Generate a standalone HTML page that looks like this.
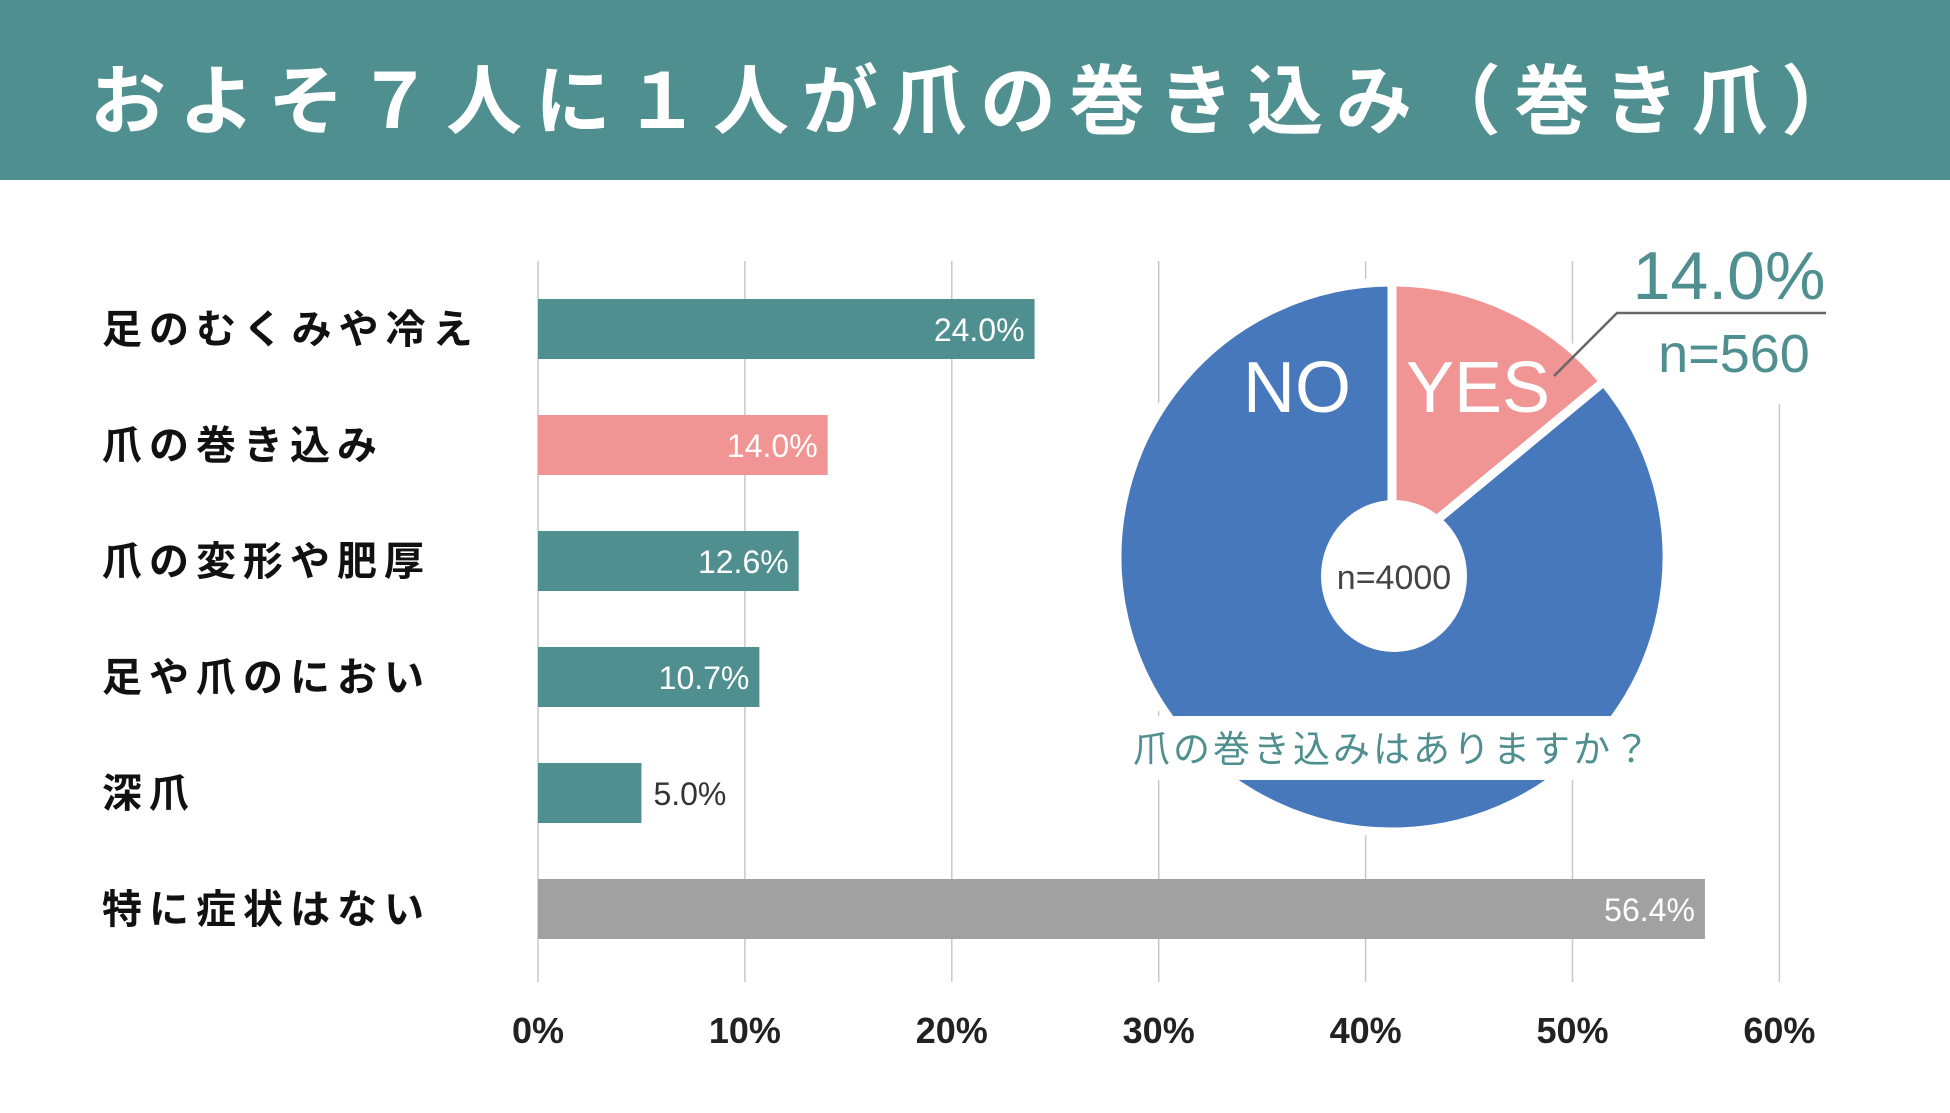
<!DOCTYPE html>
<html><head><meta charset="utf-8"><style>
body{margin:0;background:#fff;}
svg{display:block;font-family:"Liberation Sans","Noto Sans CJK JP",sans-serif;}
</style></head><body>
<svg id="c" width="1950" height="1113" viewBox="0 0 1950 1113">
<rect x="0" y="0" width="1950" height="180" fill="#4f8f8f"/>
<text x="980" y="128" text-anchor="middle" font-size="76" font-weight="bold" fill="#fff" letter-spacing="13">およそ７人に１人が爪の巻き込み（巻き爪）</text>
<g id="grid"></g><g id="bars"></g><g id="pie"></g>
</svg>
<script>
const categories=["足のむくみや冷え","爪の巻き込み","爪の変形や肥厚","足や爪のにおい","深爪","特に症状はない"];
const values=[24.0,14.0,12.6,10.7,5.0,56.4];
const ticks=[0,10,20,30,40,50,60];
const pieLabels=["YES","NO"];
const pieValues=[14.0,86.0];
const NS="http://www.w3.org/2000/svg";
function mk(t,a,p){const e=document.createElementNS(NS,t);for(const k in a)e.setAttribute(k,a[k]);p.appendChild(e);return e;}
const x0=538,pxPer=206.9/10;
const xs=v=>x0+v*pxPer;
const ys=i=>329+i*116;
const grid=document.getElementById('grid'),bars=document.getElementById('bars'),pie=document.getElementById('pie');
ticks.forEach(t=>{
 const l=mk('line',{x1:xs(t),x2:xs(t),y1:t===60?404:261,y2:982,stroke:'#c8c8c8','stroke-width':1.5},grid);
 
 
 const tx=mk('text',{x:xs(t),y:1043,'text-anchor':'middle','font-size':36,'font-weight':'bold',fill:'#222'},grid);
 tx.textContent=t+'%';
 
 
});
const colors=['#4f8f8f','#f09494','#4f8f8f','#4f8f8f','#4f8f8f','#a0a1a0'];
categories.forEach((c,i)=>{
 const y=ys(i);
 const lb=mk('text',{x:102,y:y+14,'font-size':40,'font-weight':'bold',fill:'#111','letter-spacing':7},bars);
 lb.textContent=c;
 
 
 const r=mk('rect',{x:x0,y:y-30,width:xs(values[i])-x0,height:60,fill:colors[i]},bars);
 
 
 const inside=values[i]>8;
 const vt=mk('text',{x:inside?xs(values[i])-10:xs(values[i])+12,y:y+12,'text-anchor':inside?'end':'start','font-size':32,fill:inside?'#fff':'#333'},bars);
 vt.textContent=values[i].toFixed(1)+'%';
 
 
});
const cx=1392,cy=557,R=275;
const tot=pieValues.reduce((a,b)=>a+b,0);
let a0=0;
const pcol=['#f09494','#4878bc'];
pieValues.forEach((v,i)=>{
 const a1=a0+v/tot*2*Math.PI;
 const p=(a)=>[cx+R*Math.sin(a),cy-R*Math.cos(a)];
 const [sx,sy]=p(a0),[ex,ey]=p(a1);
 const s=mk('path',{d:`M${cx},${cy} L${sx},${sy} A${R},${R} 0 ${a1-a0>Math.PI?1:0} 1 ${ex},${ey} Z`,fill:pcol[i],stroke:'#fff','stroke-width':9,'stroke-linejoin':'round'},pie);
 
 
 a0=a1;
});
const hole=mk('ellipse',{cx:1394,cy:576,rx:73,ry:76,fill:'#fff'},pie);


function t(txt,x,y,fs,fill,name,anchor,w){const e=mk('text',{x:x,y:y,'font-size':fs,fill:fill,'text-anchor':anchor||'middle','font-weight':w||'normal'},pie);e.textContent=txt;return e;}
t('n=4000',1394,589,34,'#444','pie-sample-size');
t('NO',1297,412,72,'#fff','pie-label-no');
t('YES',1478,412,72,'#fff','pie-label-yes');
const box=mk('rect',{x:1118,y:716,width:556,height:64,fill:'#fff'},pie);


t('爪の巻き込みはありますか？',1393,762,37,'#4f8f8f','pie-question').setAttribute('letter-spacing','3');
const ln=mk('polyline',{points:'1554,376 1617,313 1826,313',fill:'none',stroke:'#666','stroke-width':2.5},pie);


t(pieValues[0].toFixed(1)+'%',1729,299,68,'#4f8f8f','yes-percent');
t('n=560',1734,372,54,'#4f8f8f','yes-count');
</script>
</body></html>
